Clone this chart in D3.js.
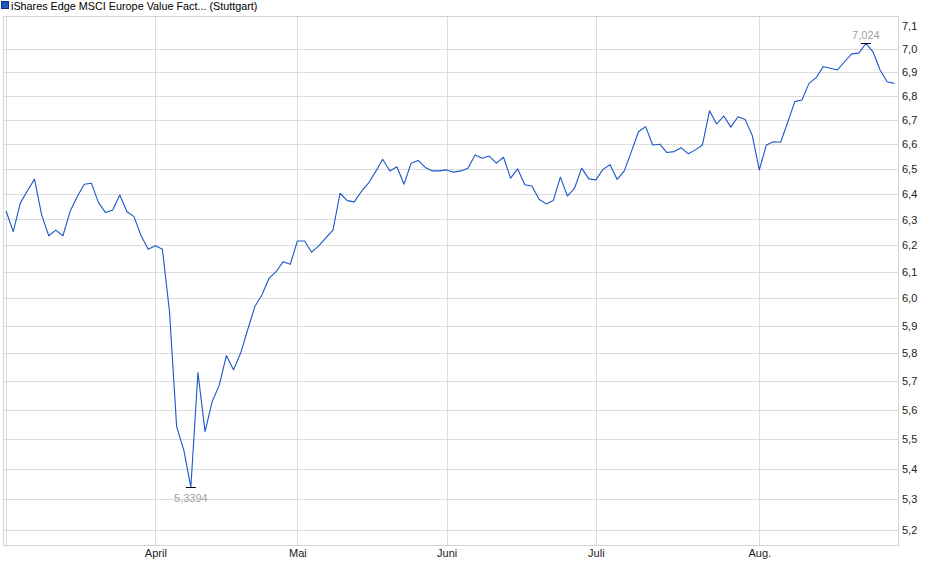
<!DOCTYPE html>
<html>
<head>
<meta charset="utf-8">
<script src="https://cdn.jsdelivr.net/npm/d3@7"></script>
<style>
  body { margin: 0; background: #fff; }
  svg text { font-family: "Liberation Sans", Arial, sans-serif; }
</style>
</head>
<body>
<div id="chart"></div>
<script>
const title = "iShares Edge MSCI Europe Value Fact... (Stuttgart)";

// one close per trading day, 3 March .. 28 August
const prices = [
  6.333, 6.253, 6.364, 6.413, 6.459, 6.318, 6.237, 6.259, 6.237, 6.331,
  6.389, 6.439, 6.443, 6.366, 6.327, 6.337, 6.396, 6.331, 6.311, 6.237,
  6.185, 6.199, 6.185, 5.95, 5.543, 5.464, 5.3394, 5.731, 5.526, 5.629,
  5.687, 5.792, 5.741, 5.80, 5.885, 5.97, 6.013, 6.075, 6.10, 6.138,
  6.128, 6.217, 6.217, 6.174, 6.198, 6.229, 6.259, 6.403, 6.374, 6.369,
  6.41, 6.443, 6.489, 6.539, 6.492, 6.509, 6.439, 6.523, 6.534, 6.506,
  6.492, 6.492, 6.496, 6.487, 6.492, 6.503, 6.556, 6.543, 6.552, 6.523,
  6.547, 6.463, 6.50, 6.437, 6.432, 6.379, 6.361, 6.374, 6.467, 6.392,
  6.423, 6.503, 6.46, 6.456, 6.498, 6.517, 6.458, 6.492, 6.57, 6.651,
  6.672, 6.597, 6.60, 6.566, 6.57, 6.586, 6.561, 6.577, 6.597, 6.738,
  6.683, 6.716, 6.67, 6.713, 6.702, 6.637, 6.496, 6.597, 6.61, 6.608,
  6.69, 6.776, 6.783, 6.853, 6.877, 6.924, 6.917, 6.91, 6.945, 6.979,
  6.982, 7.024, 6.988, 6.91, 6.86, 6.853
];

// first trading day of each month (index into prices)
const monthIdx = [0, 21, 41, 62, 83, 106];
const monthLabels = ["", "April", "Mai", "Juni", "Juli", "Aug."];

const yTicks = [5.2, 5.3, 5.4, 5.5, 5.6, 5.7, 5.8, 5.9, 6.0, 6.1, 6.2, 6.3, 6.4, 6.5, 6.6, 6.7, 6.8, 6.9, 7.0, 7.1];
const yGrid = yTicks.filter((d) => d <= 7.0);

const W = 940, H = 579;
const plot = { left: 3, right: 898, top: 16, bottom: 545 };

const svg = d3.select("#chart")
  .append("svg")
  .attr("width", W)
  .attr("height", H);

const x = d3.scaleLinear()
  .domain([0, prices.length - 1])
  .range([6.1, 894.3]);

const y = d3.scaleLog()
  .domain([5.2, 7.0])
  .range([530, 49]);

const fmt = (v) => String(+v.toFixed(4)).replace(".", ",");

// grid
svg.append("g")
  .selectAll("line")
  .data(yGrid)
  .enter()
  .append("line")
  .attr("x1", plot.left)
  .attr("x2", plot.right)
  .attr("y1", (d) => Math.round(y(d)) + 0.5)
  .attr("y2", (d) => Math.round(y(d)) + 0.5)
  .attr("stroke", "#dcdcdc")
  .attr("stroke-width", 1);

svg.append("g")
  .selectAll("line")
  .data(monthIdx)
  .enter()
  .append("line")
  .attr("x1", (d) => Math.round(x(d)) + 0.5)
  .attr("x2", (d) => Math.round(x(d)) + 0.5)
  .attr("y1", plot.top)
  .attr("y2", plot.bottom)
  .attr("stroke", "#dcdcdc")
  .attr("stroke-width", 1);

svg.append("rect")
  .attr("x", plot.left + 0.5)
  .attr("y", plot.top + 0.5)
  .attr("width", plot.right - plot.left)
  .attr("height", plot.bottom - plot.top)
  .attr("fill", "none")
  .attr("stroke", "#d4d4d4");

// right axis labels
const yAxis = d3.axisRight(y)
  .tickValues(yTicks)
  .tickSize(0)
  .tickPadding(0)
  .tickFormat((d) => d.toFixed(1).replace(".", ","));

svg.append("g")
  .attr("transform", `translate(${plot.right + 4},0)`)
  .call(yAxis)
  .call((g) => g.select(".domain").remove())
  .selectAll("text")
  .style("font-size", "11px")
  .attr("fill", "#222");

// month labels
const xAxis = d3.axisBottom(x)
  .tickValues(monthIdx)
  .tickSize(0)
  .tickPadding(4)
  .tickFormat((d, i) => monthLabels[i]);

svg.append("g")
  .attr("transform", `translate(0,${plot.bottom})`)
  .call(xAxis)
  .call((g) => g.select(".domain").remove())
  .selectAll("text")
  .style("font-size", "11px")
  .attr("fill", "#222");

// price line
const line = d3.line()
  .x((d, i) => x(i))
  .y((d) => y(d));

svg.append("path")
  .datum(prices)
  .attr("fill", "none")
  .attr("stroke", "#1b57c6")
  .attr("stroke-width", 1.1)
  .attr("stroke-linejoin", "round")
  .attr("d", line);

// min / max markers
const iMin = d3.minIndex(prices);
const iMax = d3.maxIndex(prices);

[[iMin, 14], [iMax, -5]].forEach(([i, dy]) => {
  const px = x(i), py = Math.round(y(prices[i])) + 0.5;
  svg.append("line")
    .attr("x1", px - 5)
    .attr("x2", px + 5)
    .attr("y1", py)
    .attr("y2", py)
    .attr("stroke", "#000")
    .attr("stroke-width", 1);
  svg.append("text")
    .attr("x", px)
    .attr("y", py + dy)
    .attr("text-anchor", "middle")
    .style("font-size", "11px")
    .attr("fill", "#a0a0a0")
    .text(fmt(prices[i]));
});

// legend
const legend = svg.append("g");

legend.append("rect")
  .attr("x", 1.5)
  .attr("y", 1.5)
  .attr("width", 7)
  .attr("height", 7)
  .attr("fill", "#1f56bd")
  .attr("stroke", "#0d2f70");

legend.append("text")
  .attr("x", 11)
  .attr("y", 10)
  .style("font-size", "10.8px")
  .attr("fill", "#000")
  .text(title);
</script>
</body>
</html>
